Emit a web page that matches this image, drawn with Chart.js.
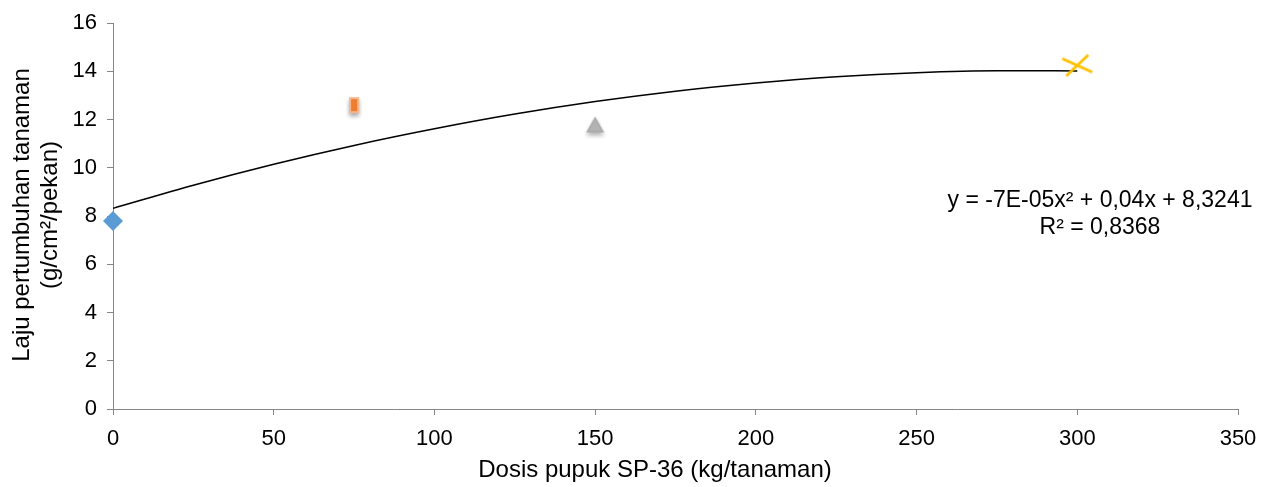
<!DOCTYPE html>
<html>
<head>
<meta charset="utf-8">
<script src="https://cdn.jsdelivr.net/npm/chart.js@4/dist/chart.umd.min.js"></script>
<style>
  html, body { margin: 0; padding: 0; background: #ffffff; }
  #wrap { width: 1273px; height: 487px; position: relative; }
</style>
</head>
<body>
<div id="wrap"><canvas id="c" width="1273" height="487"></canvas></div>
<script>
// ---- data ----
const doses = [0, 75, 150, 300];
const growthRates = [7.8, 12.6, 11.8, 14.25];
// trendline points
const trendX = [0, 25, 50, 75, 100, 125, 150, 175, 200, 225, 250, 275, 300];
const trendY = [8.32, 9.28, 10.15, 10.93, 11.62, 12.23, 12.75, 13.18, 13.52, 13.78, 13.95, 14.03, 14.02];
const xTicks = [0, 50, 100, 150, 200, 250, 300, 350];
const yTicks = [0, 2, 4, 6, 8, 10, 12, 14, 16];
const xTitle = 'Dosis pupuk SP-36 (kg/tanaman)';
const yTitle = ['Laju pertumbuhan tanaman', '(g/cm\u00B2/pekan)'];
const eqText = ['y = -7E-05x\u00B2 + 0,04x + 8,3241', 'R\u00B2 = 0,8368'];

const FONT = '"Liberation Sans", Arial, sans-serif';
const AXIS_COLOR = '#868686';

// ---- custom marker images ----
function makeCanvas(w, h) { const c = document.createElement('canvas'); c.width = w; c.height = h; return c; }

const orangeMarker = (() => {
  const c = makeCanvas(24, 30); const ctx = c.getContext('2d');
  ctx.save();
  ctx.shadowColor = 'rgba(0,0,0,0.35)'; ctx.shadowBlur = 4; ctx.shadowOffsetY = 3;
  ctx.fillStyle = '#F6B58A';
  ctx.fillRect(7, 7, 10, 16);
  ctx.restore();
  ctx.fillStyle = '#ED7D31';
  ctx.fillRect(9, 9, 6, 12);
  return c;
})();

const triMarker = (() => {
  const c = makeCanvas(28, 30); const ctx = c.getContext('2d');
  ctx.save();
  ctx.shadowColor = 'rgba(0,0,0,0.3)'; ctx.shadowBlur = 4; ctx.shadowOffsetY = 3;
  ctx.beginPath();
  ctx.moveTo(14, 7); ctx.lineTo(23, 23); ctx.lineTo(5, 23); ctx.closePath();
  ctx.fillStyle = '#A9A9A9'; ctx.fill();
  ctx.restore();
  ctx.beginPath();
  ctx.moveTo(14, 10); ctx.lineTo(20.5, 21.5); ctx.lineTo(7.5, 21.5); ctx.closePath();
  ctx.fillStyle = '#B3B3B3'; ctx.fill();
  return c;
})();

const crossMarker = (() => {
  const c = makeCanvas(36, 28); const ctx = c.getContext('2d');
  ctx.strokeStyle = '#FFC000'; ctx.lineWidth = 2.8; ctx.lineCap = 'butt';
  ctx.beginPath();
  ctx.moveTo(18 - 15, 14 - 6.7); ctx.lineTo(18 + 15, 14 + 6.7);
  ctx.moveTo(18 - 11, 14 + 10.5); ctx.lineTo(18 + 11, 14 - 10.5);
  ctx.stroke();
  return c;
})();

const pointStyles = ['rectRot', orangeMarker, triMarker, crossMarker];

// ---- text plugin ----
const textPlugin = {
  id: 'texts',
  afterDraw(chart) {
    const ctx = chart.ctx; const a = chart.chartArea;
    ctx.save();
    ctx.fillStyle = '#000';
    ctx.textBaseline = 'middle';
    ctx.textAlign = 'center';
    ctx.font = '24px ' + FONT;
    ctx.fillText(xTitle, 655, 470);
    ctx.save();
    ctx.translate(22, 215); ctx.rotate(-Math.PI / 2);
    ctx.fillText(yTitle[0], 0, 0);
    ctx.restore();
    ctx.save();
    ctx.translate(50, 215); ctx.rotate(-Math.PI / 2);
    ctx.fillText(yTitle[1], 0, 0);
    ctx.restore();
    ctx.font = '23px ' + FONT;
    ctx.fillText(eqText[0], 1100, 201);
    ctx.fillText(eqText[1], 1100, 228);
    ctx.restore();
  }
};

new Chart(document.getElementById('c'), {
  type: 'scatter',
  data: {
    datasets: [
      {
        label: 'Trendline',
        data: trendX.map((x, i) => ({ x, y: trendY[i] })),
        showLine: true,
        borderColor: '#000000',
        borderWidth: 1.5,
        pointRadius: 0,
        cubicInterpolationMode: 'monotone',
        clip: false,
        order: 2
      },
      {
        label: 'Data',
        data: doses.map((x, i) => ({ x, y: growthRates[i] })),
        pointStyle: pointStyles,
        pointRadius: 10,
        backgroundColor: '#5B9BD5',
        borderColor: '#5B9BD5',
        borderWidth: 0,
        clip: false,
        order: 1
      }
    ]
  },
  options: {
    responsive: false,
    animation: false,
    devicePixelRatio: 1,
    layout: { padding: { left: 0, top: 23, right: 35, bottom: 0 } },
    plugins: { legend: { display: false }, tooltip: { enabled: false }, title: { display: false } },
    scales: {
      x: {
        type: 'linear', min: 0, max: 350,
        afterFit(s) { s.height = 78; },
        afterBuildTicks(s) { s.ticks = xTicks.map(v => ({ value: v })); },
        ticks: { color: '#000', font: { family: FONT, size: 22 }, padding: 11, maxRotation: 0 },
        grid: { drawOnChartArea: false, drawTicks: true, tickLength: 6, tickColor: AXIS_COLOR, lineWidth: 1 },
        border: { display: true, color: AXIS_COLOR, width: 1 }
      },
      y: {
        type: 'linear', min: 0, max: 16,
        afterFit(s) { s.width = 113; },
        afterBuildTicks(s) { s.ticks = yTicks.map(v => ({ value: v })); },
        ticks: { color: '#000', font: { family: FONT, size: 22 }, padding: 10 },
        grid: { drawOnChartArea: false, drawTicks: true, tickLength: 6, tickColor: AXIS_COLOR, lineWidth: 1 },
        border: { display: true, color: AXIS_COLOR, width: 1 }
      }
    }
  },
  plugins: [textPlugin]
});
</script>
</body>
</html>
